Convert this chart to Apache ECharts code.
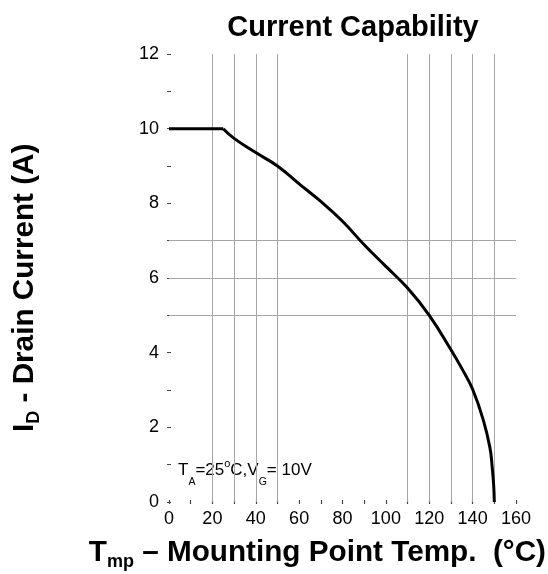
<!DOCTYPE html>
<html>
<head>
<meta charset="utf-8">
<script src="https://cdn.jsdelivr.net/npm/echarts@6/dist/echarts.min.js"></script>
<style>
  html, body { margin: 0; padding: 0; background: #fff; }
  #chart { width: 548px; height: 574px; }
</style>
</head>
<body>
<div id="chart"></div>
<script>
// Derating curve: drain current vs. mounting point temperature
const tempC = [0, 25, 30, 40, 50, 60, 70, 80, 90, 100, 110, 120, 130, 135, 140, 145, 148, 149, 149.7, 150];
const drainA = [10, 10, 9.74, 9.36, 9.0, 8.52, 8.05, 7.52, 6.89, 6.31, 5.73, 5.0, 4.08, 3.58, 3.02, 2.18, 1.45, 0.95, 0.45, 0];
// Temperature where the flat current limit ends and derating begins
const derateStart = 25;

// Reference grid lines
const vGrid = [20, 30, 40, 50, 110, 120, 130, 140, 150];
const hGrid = [5, 6, 7];

// Axis ranges and label steps
const xMin = 0, xMax = 160, xTickStep = 10, xLabelStep = 20;
const yMin = 0, yMax = 12, yTickStep = 1, yLabelStep = 2;

const FONT = '"Liberation Sans", Arial, sans-serif';
const gridColor = '#a6a6a6';
const tickDots = { show: true, length: 2, inside: false, lineStyle: { color: '#444', width: 1.2 } };

const points = tempC.map((t, i) => [t, drainA[i]]);
const flatPart = points.filter(p => p[0] <= derateStart);
const deratePart = points.filter(p => p[0] >= derateStart);

// Rich-text styles: tokens are top-aligned, subscripts pushed down with top padding
const titleRich = {
  m: { fontFamily: FONT, fontSize: 29.7, fontWeight: 'bold', fill: '#000', verticalAlign: 'top' },
  s: { fontFamily: FONT, fontSize: 18, fontWeight: 'bold', fill: '#000', verticalAlign: 'top', padding: [15, 0, 0, 0] }
};

const curveLine = { color: '#000', width: 3 };

const chart = echarts.init(document.getElementById('chart'), null, { renderer: 'canvas' });

chart.setOption({
  animation: false,
  backgroundColor: '#ffffff',
  title: {
    text: 'Current Capability',
    left: 348, top: 8, textAlign: 'center',
    textStyle: { fontFamily: FONT, fontSize: 29, fontWeight: 'bold', color: '#000' }
  },
  grid: { left: 169, right: 32, top: 54, bottom: 72, containLabel: false },
  xAxis: [
    {
      type: 'value', position: 'bottom', min: xMin, max: xMax, interval: xTickStep,
      axisLine: { show: false },
      axisTick: tickDots,
      splitLine: { show: false },
      axisLabel: {
        margin: 8, fontFamily: FONT, fontSize: 18, color: '#000',
        formatter: v => (v % xLabelStep === 0 ? String(v) : '')
      }
    },
    {
      type: 'value', position: 'top', min: xMin, max: xMax, interval: xTickStep,
      axisLine: { show: false }, axisTick: tickDots,
      splitLine: { show: false }, axisLabel: { show: false }
    }
  ],
  yAxis: [
    {
      type: 'value', position: 'left', min: yMin, max: yMax, interval: yTickStep,
      axisLine: { show: false },
      axisTick: tickDots,
      splitLine: { show: false },
      axisLabel: {
        margin: 10, fontFamily: FONT, fontSize: 18, color: '#000',
        formatter: v => (v % yLabelStep === 0 ? String(v) : '')
      }
    },
    {
      type: 'value', position: 'right', min: yMin, max: yMax, interval: yTickStep,
      axisLine: { show: false }, axisTick: tickDots,
      splitLine: { show: false }, axisLabel: { show: false }
    }
  ],
  series: [
    {
      // constant current limit
      type: 'line',
      data: flatPart,
      showSymbol: false,
      lineStyle: curveLine,
      z: 5,
      markLine: {
        silent: true,
        symbol: ['none', 'none'],
        label: { show: false },
        lineStyle: { color: gridColor, width: 1, type: 'solid' },
        data: vGrid.map(v => ({ xAxis: v })).concat(hGrid.map(v => ({ yAxis: v }))),
        z: 1
      }
    },
    {
      // derated region
      type: 'line',
      data: deratePart,
      smooth: 0.45,
      showSymbol: false,
      lineStyle: curveLine,
      z: 5
    }
  ],
  graphic: [
    {
      // Y axis title, reads bottom to top
      type: 'text',
      x: 10, y: 432, rotation: Math.PI / 2,
      style: {
        text: '{m|I}{s|D}{m| - Drain Current (A)}',
        align: 'left', verticalAlign: 'top',
        rich: titleRich
      }
    },
    {
      // X axis title
      type: 'text',
      x: 546, y: 538,
      style: {
        text: '{m|T}{s|mp}{m| – Mounting Point Temp.  (°C)}',
        align: 'right', verticalAlign: 'top',
        rich: titleRich
      }
    },
    {
      // Test conditions
      type: 'text',
      x: 178, y: 458,
      style: {
        text: '{m|T}{s|A}{m|=25}{p|o}{m|C,V}{s|G}{m|= 10V}',
        align: 'left', verticalAlign: 'top',
        rich: {
          m: { fontFamily: FONT, fontSize: 17, fill: '#000', verticalAlign: 'top', padding: [4, 0, 0, 0] },
          s: { fontFamily: FONT, fontSize: 10.5, fill: '#000', verticalAlign: 'top', padding: [19, 0, 0, 0] },
          p: { fontFamily: FONT, fontSize: 11, fill: '#000', verticalAlign: 'top', padding: [0, 0, 0, 0] }
        }
      }
    }
  ]
});
</script>
</body>
</html>
